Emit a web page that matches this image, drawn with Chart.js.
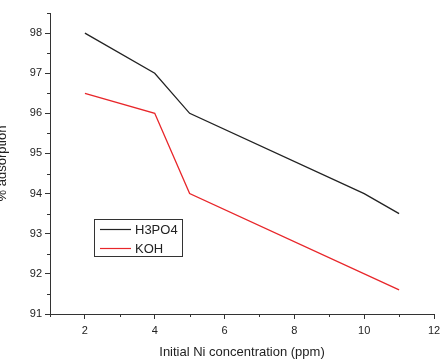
<!DOCTYPE html>
<html>
<head>
<meta charset="utf-8">
<script src="https://cdn.jsdelivr.net/npm/chart.js@4"></script>
<style>
  html, body { margin: 0; padding: 0; background: #fff; }
  #wrap { width: 447px; height: 360px; }
</style>
</head>
<body>
<div id="wrap"><canvas id="c" width="447" height="360"></canvas></div>
<script>
// data
const h3po4X = [2, 4, 5, 10, 11];
const h3po4Y = [98, 97, 96, 94, 93.5];
const kohX = [2, 4, 5, 11];
const kohY = [96.5, 96, 94, 91.6];
const seriesNames = ['H3PO4', 'KOH'];
const seriesColors = ['#222222', '#e8262a'];

const FONT = 'Liberation Sans, Arial, sans-serif';
const AXIS = '#333';

const toPoints = (xs, ys) => xs.map((x, i) => ({ x, y: ys[i] }));
const isMajorX = (v) => v % 2 === 0;
const isMajorY = (v) => Number.isInteger(v);

// legend box inside the plot, like origin does it
const boxLegend = {
    id: 'boxLegend',
    afterDraw(chart) {
        const { ctx, chartArea } = chart;
        const x0 = chartArea.left + 44;
        const y0 = chartArea.top + 206;
        const w = 88, h = 37;
        ctx.save();
        ctx.strokeStyle = AXIS;
        ctx.lineWidth = 1;
        ctx.strokeRect(x0 + 0.5, y0 + 0.5, w, h);
        ctx.font = '13px ' + FONT;
        ctx.textBaseline = 'middle';
        seriesNames.forEach((name, i) => {
            const yy = y0 + 10 + i * 19;
            ctx.strokeStyle = seriesColors[i];
            ctx.lineWidth = 1.2;
            ctx.beginPath();
            ctx.moveTo(x0 + 6, yy + 0.5);
            ctx.lineTo(x0 + 37, yy + 0.5);
            ctx.stroke();
            ctx.fillStyle = '#222';
            ctx.fillText(name, x0 + 41, yy + 1);
        });
        ctx.restore();
    }
};

// short minor ticks (grid ticks only draw the major ones)
const minorTicks = {
    id: 'minorTicks',
    afterDraw(chart) {
        const { ctx, chartArea, scales } = chart;
        ctx.save();
        ctx.strokeStyle = AXIS;
        ctx.lineWidth = 1;
        ctx.beginPath();
        scales.x.ticks.forEach(t => {
            if (isMajorX(t.value)) return;
            const px = Math.round(scales.x.getPixelForValue(t.value)) + 0.5;
            ctx.moveTo(px, chartArea.bottom);
            ctx.lineTo(px, chartArea.bottom + 3);
        });
        scales.y.ticks.forEach(t => {
            if (isMajorY(t.value)) return;
            const py = Math.round(scales.y.getPixelForValue(t.value)) + 0.5;
            ctx.moveTo(chartArea.left, py);
            ctx.lineTo(chartArea.left - 3, py);
        });
        ctx.stroke();
        ctx.restore();
    }
};

new Chart(document.getElementById('c'), {
    type: 'line',
    data: {
        datasets: [
            {
                label: seriesNames[0],
                data: toPoints(h3po4X, h3po4Y),
                borderColor: seriesColors[0],
                borderWidth: 1.3,
                pointRadius: 0,
                tension: 0,
            },
            {
                label: seriesNames[1],
                data: toPoints(kohX, kohY),
                borderColor: seriesColors[1],
                borderWidth: 1.3,
                pointRadius: 0,
                tension: 0,
            },
        ],
    },
    options: {
        responsive: false,
        animation: false,
        layout: { padding: { left: 0, right: 13, top: 13, bottom: 0 } },
        plugins: {
            legend: { display: false },
            tooltip: { enabled: false },
        },
        scales: {
            x: {
                type: 'linear',
                min: 1,
                max: 12,
                afterFit: (s) => { s.height = 46; },
                border: { display: true, color: AXIS, width: 1 },
                grid: {
                    drawOnChartArea: false,
                    drawTicks: true,
                    tickLength: 5,
                    color: (c) => (c.tick && isMajorX(c.tick.value) ? AXIS : 'rgba(0,0,0,0)'),
                },
                ticks: {
                    stepSize: 1,
                    autoSkip: false,
                    maxRotation: 0,
                    padding: 5,
                    color: '#222',
                    font: { family: FONT, size: 11 },
                    callback: (v) => (isMajorX(v) ? v : ''),
                },
                title: {
                    display: true,
                    text: 'Initial Ni concentration (ppm)',
                    color: '#222',
                    font: { family: FONT, size: 13 },
                    padding: { top: 0, bottom: 0 },
                },
            },
            y: {
                min: 91,
                max: 98.5,
                afterFit: (s) => { s.width = 50; },
                border: { display: true, color: AXIS, width: 1 },
                grid: {
                    drawOnChartArea: false,
                    drawTicks: true,
                    tickLength: 5,
                    color: (c) => (c.tick && isMajorY(c.tick.value) ? AXIS : 'rgba(0,0,0,0)'),
                },
                ticks: {
                    stepSize: 0.5,
                    autoSkip: false,
                    padding: 3,
                    color: '#222',
                    font: { family: FONT, size: 11 },
                    callback: (v) => (isMajorY(v) ? v : ''),
                },
                title: {
                    display: true,
                    text: '% adsorption',
                    color: '#222',
                    font: { family: FONT, size: 13 },
                    padding: { top: -5, bottom: 0 },
                },
            },
        },
    },
    plugins: [boxLegend, minorTicks],
});
</script>
</body>
</html>
